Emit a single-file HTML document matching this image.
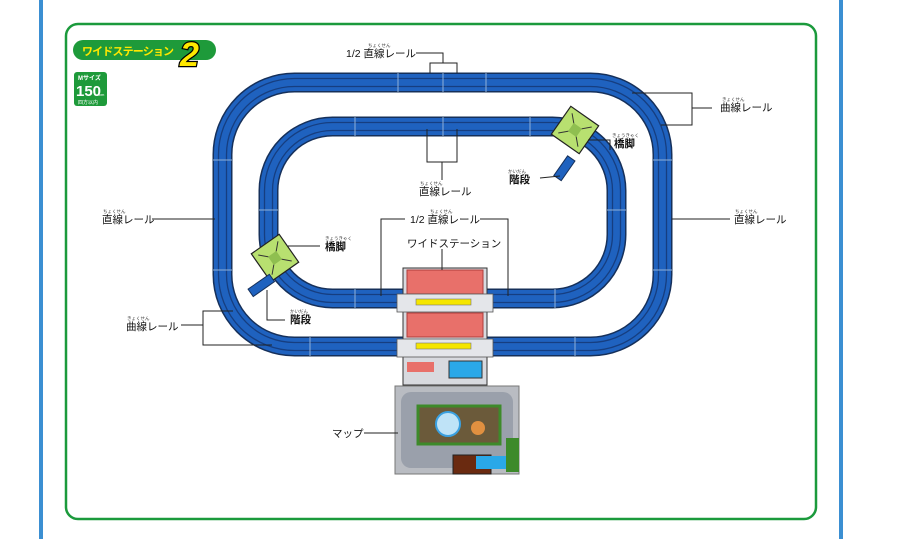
<!DOCTYPE html>
<html><head><meta charset="utf-8"><style>
body{margin:0;width:900px;height:539px;background:#fff;overflow:hidden;font-family:"Liberation Sans","Noto Sans CJK JP",sans-serif}
svg{position:absolute;left:0;top:0}
</style></head><body>
<svg width="900" height="539" viewBox="0 0 900 539" font-family="Liberation Sans, Noto Sans CJK JP, sans-serif">
<line x1="41" y1="0" x2="41" y2="539" stroke="#3b8fd2" stroke-width="4"/>
<line x1="841" y1="0" x2="841" y2="539" stroke="#3b8fd2" stroke-width="4"/>
<rect x="66" y="24" width="750" height="495" rx="12" fill="none" stroke="#1b9a3c" stroke-width="2.5"/>
<rect x="73" y="40" width="143" height="20" rx="10" fill="#1e9a3a"/>
<text x="82" y="55" font-size="11" font-weight="bold" fill="#ffe800" textLength="92">ワイドステーション</text>
<text x="180" y="66" font-size="34" font-weight="bold" font-style="italic" fill="#ffe800" stroke="#000" stroke-width="2.5" paint-order="stroke">2</text>
<rect x="74" y="72" width="33" height="34" rx="3" fill="#1e9a3a"/>
<text x="78" y="80" font-size="6" font-weight="bold" fill="#fff">Mサイズ</text>
<text x="76" y="96" font-size="15" font-weight="bold" fill="#fff">150</text>
<text x="99" y="96" font-size="4" fill="#fff">cm</text>
<text x="78" y="104" font-size="5" fill="#fff">四方以内</text>
<g fill="none">
<rect x="222.5" y="82.5" width="440" height="264" rx="72" stroke="#16305a" stroke-width="20"/>
<rect x="222.5" y="82.5" width="440" height="264" rx="72" stroke="#1f62bf" stroke-width="17"/>
<rect x="218.5" y="78.5" width="448" height="272" rx="76" stroke="#163e80" stroke-width="1.3"/>
<rect x="226.5" y="86.5" width="432" height="256" rx="68" stroke="#163e80" stroke-width="1.3"/>
<rect x="268.5" y="126.5" width="348" height="172" rx="64" stroke="#16305a" stroke-width="20"/>
<rect x="268.5" y="126.5" width="348" height="172" rx="64" stroke="#1f62bf" stroke-width="17"/>
<rect x="264.5" y="122.5" width="356" height="180" rx="68" stroke="#163e80" stroke-width="1.3"/>
<rect x="272.5" y="130.5" width="340" height="164" rx="60" stroke="#163e80" stroke-width="1.3"/>
</g>
<g stroke="#8fb0d8" stroke-width="1">
<line x1="398" y1="73" x2="398" y2="92"/><line x1="443" y1="73" x2="443" y2="92"/><line x1="486" y1="73" x2="486" y2="92"/>
<line x1="355" y1="117" x2="355" y2="136"/><line x1="443" y1="117" x2="443" y2="136"/><line x1="530" y1="117" x2="530" y2="136"/>
<line x1="213" y1="160" x2="232" y2="160"/><line x1="213" y1="270" x2="232" y2="270"/>
<line x1="653" y1="160" x2="672" y2="160"/><line x1="653" y1="270" x2="672" y2="270"/>
<line x1="259" y1="210" x2="278" y2="210"/><line x1="607" y1="210" x2="626" y2="210"/>
<line x1="310" y1="337" x2="310" y2="356"/><line x1="575" y1="337" x2="575" y2="356"/>
<line x1="555" y1="289" x2="555" y2="308"/><line x1="355" y1="289" x2="355" y2="308"/>
</g>
<rect x="403" y="268" width="84" height="117" fill="#d8dadf" stroke="#333" stroke-width="1"/>
<rect x="407" y="270" width="76" height="24" fill="#e8706a" stroke="#b03c3a" stroke-width="1"/>
<rect x="407" y="313" width="76" height="24" fill="#e8706a" stroke="#b03c3a" stroke-width="1"/>
<rect x="397" y="294" width="96" height="18" fill="#e4e6ea" stroke="#555" stroke-width="0.8"/>
<rect x="397" y="339" width="96" height="18" fill="#e4e6ea" stroke="#555" stroke-width="0.8"/>
<rect x="416" y="299" width="55" height="6" fill="#f5e600" stroke="#777" stroke-width="0.6"/>
<rect x="416" y="343" width="55" height="6" fill="#f5e600" stroke="#777" stroke-width="0.6"/>
<rect x="407" y="362" width="27" height="10" fill="#e8706a"/>
<rect x="449" y="361" width="33" height="17" fill="#2aa8e8" stroke="#333" stroke-width="1"/>
<rect x="395" y="386" width="124" height="88" fill="#b9bcc2" stroke="#777" stroke-width="1"/>
<rect x="401" y="392" width="112" height="76" rx="10" fill="#9aa0ab"/>
<rect x="418" y="406" width="82" height="38" fill="#6b5a3a" stroke="#3d8a2a" stroke-width="3"/>
<circle cx="448" cy="424" r="12" fill="#bfe3f7" stroke="#3aa0e0" stroke-width="2"/>
<circle cx="478" cy="428" r="7" fill="#e09040"/>
<rect x="453" y="455" width="38" height="19" fill="#6a2a10" stroke="#222"/>
<rect x="476" y="456" width="30" height="13" fill="#2aa8e8"/>
<rect x="506" y="438" width="13" height="34" fill="#3d8a2a"/>
<g transform="translate(575,130) rotate(35)"><rect x="-17" y="-17" width="34" height="34" fill="#b8e070" stroke="#222" stroke-width="1.2"/><path d="M-12-12L12 12M12-12L-12 12" stroke="#333"/><rect x="-5" y="-5" width="10" height="10" fill="#8fbf50"/></g>
<g transform="translate(564,168) rotate(35)"><rect x="-4" y="-12" width="9" height="24" fill="#1f62bf" stroke="#16305a"/></g>
<g transform="translate(275,258) rotate(-35)"><rect x="-17" y="-17" width="34" height="34" fill="#b8e070" stroke="#222" stroke-width="1.2"/><path d="M-12-12L12 12M12-12L-12 12" stroke="#333"/><rect x="-5" y="-5" width="10" height="10" fill="#8fbf50"/></g>
<g transform="translate(261,285) rotate(55)"><rect x="-4" y="-13" width="9" height="26" fill="#1f62bf" stroke="#16305a"/></g>
<g fill="none" stroke="#222" stroke-width="1">
<path d="M416 53H443V63M430 73V63H457V73"/>
<path d="M427 129V162H457V129M442 162V180"/>
<path d="M632 93H692V125H661M692 108H712"/>
<path d="M588 140H610V150"/>
<path d="M560 176L540 178"/>
<path d="M152 219H215"/>
<path d="M672 219H730"/>
<path d="M381 296V219H405M480 219H508V296"/>
<path d="M442 249V270"/>
<path d="M288 246H320"/>
<path d="M267 290V320H285"/>
<path d="M181 325H203V311H233M203 325V345H272"/>
<path d="M364 433H398"/>
</g>
<g font-size="10.5" fill="#111">
<text x="346" y="57">1/2 直線レール</text>
<text x="720" y="111">曲線レール</text>
<text x="614" y="147" font-weight="bold">橋脚</text>
<text x="509" y="183" font-weight="bold">階段</text>
<text x="419" y="195">直線レール</text>
<text x="102" y="223">直線レール</text>
<text x="734" y="223">直線レール</text>
<text x="410" y="223">1/2 直線レール</text>
<text x="407" y="247">ワイドステーション</text>
<text x="325" y="250" font-weight="bold">橋脚</text>
<text x="290" y="323" font-weight="bold">階段</text>
<text x="126" y="330">曲線レール</text>
<text x="332" y="437">マップ</text>
</g>
<g font-size="4.5" fill="#333">
<text x="368" y="47">ちょくせん</text><text x="722" y="101">きょくせん</text><text x="612" y="137">きょうきゃく</text>
<text x="508" y="173">かいだん</text><text x="420" y="185">ちょくせん</text><text x="103" y="213">ちょくせん</text>
<text x="735" y="213">ちょくせん</text><text x="430" y="213">ちょくせん</text><text x="325" y="240">きょうきゃく</text>
<text x="290" y="313">かいだん</text><text x="127" y="320">きょくせん</text>
</g>
</svg>
</body></html>
